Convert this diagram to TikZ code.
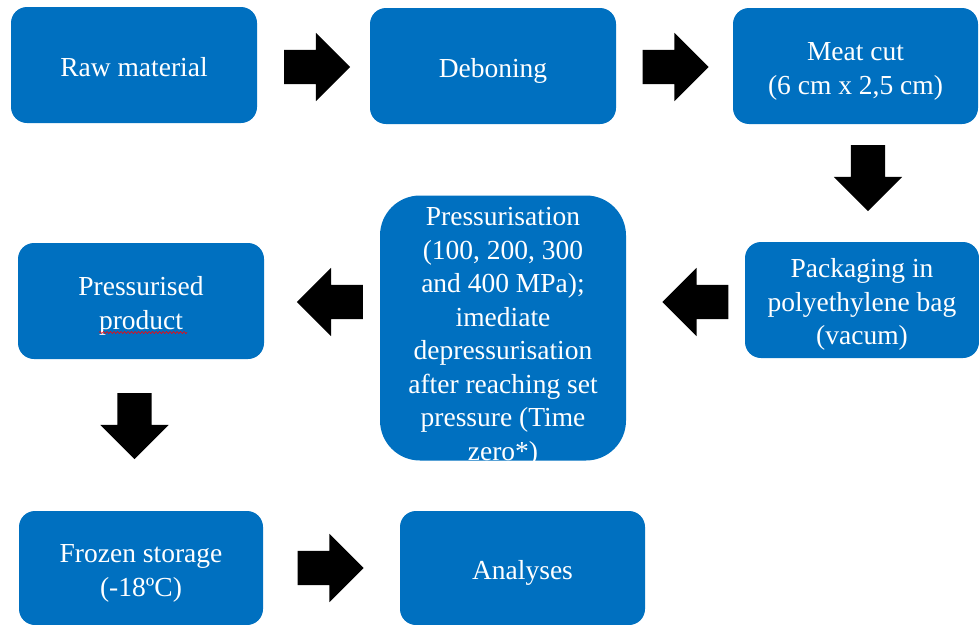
\documentclass[tikz,border=0pt]{standalone}
\usepackage{fontspec}
\setmainfont{Liberation Serif}
\usepackage{tikz}
\usetikzlibrary{shapes.arrows, calc, decorations.pathmorphing}
\definecolor{boxblue}{RGB}{0, 112, 192}

% struts so that the text sits a little low in the boxes
\newcommand{\topgap}{\rule{0pt}{30pt}}
\newcommand{\botgap}{\rule[-7.2pt]{0pt}{7.2pt}}

\tikzset{
  stepbox/.style={rectangle, rounded corners=16pt, fill=boxblue, text=white,
    align=center, inner sep=0pt, minimum width=246pt, minimum height=116pt,
    font=\fontsize{27.5}{33.5}\selectfont},
  blockarrow/.style={single arrow, fill=black, inner xsep=0pt, inner ysep=17pt,
    minimum height=66pt, minimum width=68pt, single arrow head extend=17pt}
}

\begin{document}
\begin{tikzpicture}[x=1pt, y=-1pt]

  \useasboundingbox (0, 0) rectangle (979, 624);

  % top row
  \node[stepbox] (raw) at (134, 65) {\topgap Raw material\botgap};
  \node[stepbox] (debon) at (493, 66) {\topgap Deboning\botgap};
  \node[stepbox, minimum width=245pt] (meat) at (855.5, 66) {\topgap Meat cut\\(6 cm x 2,5 cm)\botgap};

  % middle row
  \node[stepbox, minimum width=234pt] (pack) at (862, 300) {\topgap Packaging in\\polyethylene bag\\(vacum)\botgap};
  \node[stepbox, rounded corners=40pt, minimum height=265pt] (press) at (503, 328)
    {\topgap Pressurisation\\(100, 200, 300\\and 400 MPa);\\imediate\\depressurisation\\after reaching set\\pressure (Time\\\smash{zero*)}};
  \node[stepbox] (prod) at (141, 301) {\topgap Pressurised\\product\botgap};
  \draw [red, line width=0.6, decorate, decoration={snake, amplitude=1pt, segment length=3.5pt}]
    ($(prod.center) + (-42, 31.5)$) -- ($(prod.center) + (46, 31.5)$);

  % bottom row
  \node[stepbox, minimum width=244pt, minimum height=114pt] (frozen) at (141, 568) {\topgap Frozen storage\\(-18ºC)\botgap};
  \node[stepbox, minimum width=245pt, minimum height=114pt] (anal) at (522.5, 568) {\topgap Analyses\botgap};

  % arrows
  \node[blockarrow] (a1) at (308.5, 67) {};
  \node[blockarrow] (a2) at (667, 67) {};
  \node[blockarrow, rotate=-90] (a3) at (868, 169.5) {};
  \node[blockarrow, rotate=180] (a4) at (704, 302) {};
  \node[blockarrow, rotate=180] (a5) at (338.5, 302) {};
  \node[blockarrow, rotate=-90] (a6) at (134.5, 417.5) {};
  \node[blockarrow] (a7) at (322, 568) {};

\end{tikzpicture}
\end{document}
